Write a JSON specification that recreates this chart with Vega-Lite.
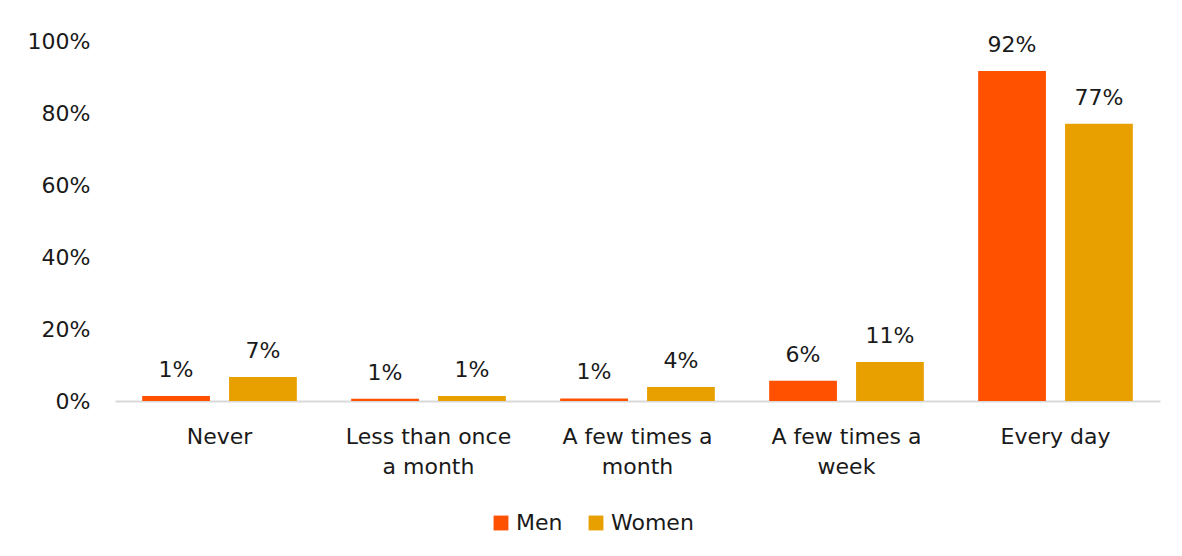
{
  "$schema": "https://vega.github.io/schema/vega-lite/v6.json",
  "autosize": "none",
  "width": 1045,
  "height": 360,
  "padding": {"left": 115, "top": 41, "right": 22, "bottom": 155},
  "background": "white",
  "config": {
    "view": {"stroke": null},
    "font": "DejaVu Sans",
    "axis": {"labelFont": "DejaVu Sans", "labelColor": "#1a1a1a", "labelFontSize": 22, "grid": false, "ticks": false, "title": null}
  },
  "data": {
    "values": [
      {"frequency": "Never", "gender": "Men", "value": 0.014},
      {"frequency": "Never", "gender": "Women", "value": 0.067},
      {"frequency": "Less than once a month", "gender": "Men", "value": 0.006},
      {"frequency": "Less than once a month", "gender": "Women", "value": 0.014},
      {"frequency": "A few times a month", "gender": "Men", "value": 0.007},
      {"frequency": "A few times a month", "gender": "Women", "value": 0.039},
      {"frequency": "A few times a week", "gender": "Men", "value": 0.056},
      {"frequency": "A few times a week", "gender": "Women", "value": 0.108},
      {"frequency": "Every day", "gender": "Men", "value": 0.917},
      {"frequency": "Every day", "gender": "Women", "value": 0.77}
    ]
  },
  "encoding": {
    "x": {
      "field": "frequency",
      "type": "nominal",
      "sort": ["Never", "Less than once a month", "A few times a month", "A few times a week", "Every day"],
      "scale": {"paddingInner": 0.26, "paddingOuter": 0.13},
      "axis": {
        "labelAngle": 0,
        "labelPadding": 25,
        "labelLineHeight": 30,
        "labelBaseline": "top",
        "domainColor": "#d9d9d9",
        "domainWidth": 2,
        "labelExpr": "datum.label == 'Less than once a month' ? ['Less than once', 'a month'] : datum.label == 'A few times a month' ? ['A few times a', 'month'] : datum.label == 'A few times a week' ? ['A few times a', 'week'] : datum.label"
      }
    },
    "xOffset": {"field": "gender", "type": "nominal", "scale": {"paddingInner": 0.22, "paddingOuter": 0}},
    "y": {
      "field": "value",
      "type": "quantitative",
      "scale": {"domain": [0, 1]},
      "axis": {"format": ".0%", "values": [0, 0.2, 0.4, 0.6, 0.8, 1], "domain": false, "labelPadding": 25}
    }
  },
  "layer": [
    {
      "mark": {"type": "bar"},
      "encoding": {
        "color": {
          "field": "gender",
          "type": "nominal",
          "scale": {"domain": ["Men", "Women"], "range": ["#FF5100", "#E8A000"]},
          "legend": {
            "orient": "none",
            "legendX": 375,
            "legendY": 471,
            "direction": "horizontal",
            "title": null,
            "symbolType": "square",
            "symbolSize": 220,
            "symbolStrokeWidth": 0,
            "labelFontSize": 22,
            "labelColor": "#1a1a1a",
            "labelFont": "DejaVu Sans",
            "columnPadding": 22
          }
        }
      }
    },
    {
      "mark": {"type": "text", "baseline": "bottom", "dy": -14, "fontSize": 22, "color": "#1a1a1a"},
      "encoding": {
        "text": {"field": "value", "format": ".0%"}
      }
    }
  ]
}
